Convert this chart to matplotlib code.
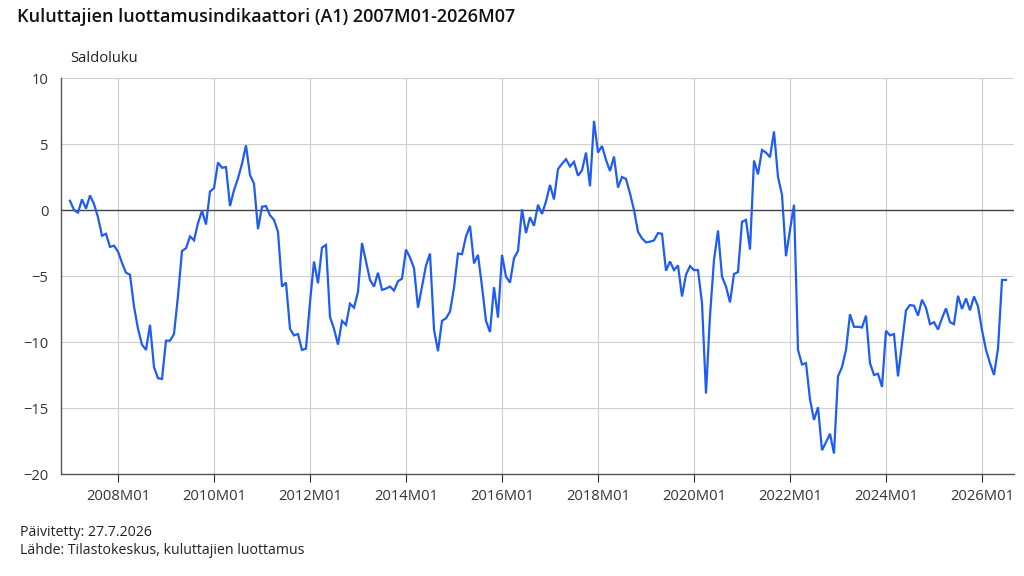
import matplotlib
matplotlib.use("Agg")
import matplotlib.pyplot as plt
from matplotlib.ticker import FixedLocator, FuncFormatter

plt.rcParams['font.family'] = ['Open Sans', 'DejaVu Sans']

title = "Kuluttajien luottamusindikaattori (A1) 2007M01-2026M07"
y_label = "Saldoluku"
footer_lines = ["Päivitetty: 27.7.2026", "Lähde: Tilastokeskus, kuluttajien luottamus"]

start_year = 2007
n_months = 235
periods = [f"{start_year + i // 12}M{i % 12 + 1:02d}" for i in range(n_months)]

values = [
    0.7, 0.0, -0.2, 0.8, 0.1, 1.1, 0.45, -0.55, -1.95, -1.8, -2.8, -2.7,
    -3.15, -4.0, -4.75, -4.9, -7.3, -9.0, -10.2, -10.6, -8.7, -11.9, -12.75, -12.8,
    -9.9, -9.9, -9.4, -6.5, -3.1, -2.9, -2.0, -2.3, -1.0, -0.05, -1.1, 1.4,
    1.65, 3.6, 3.2, 3.25, 0.3, 1.5, 2.4, 3.5, 4.9, 2.65, 2.0, -1.45,
    0.25, 0.3, -0.4, -0.75, -1.65, -5.8, -5.5, -9.0, -9.5, -9.4, -10.6, -10.5,
    -7.0, -3.9, -5.55, -2.85, -2.65, -8.1, -9.0, -10.2, -8.4, -8.7, -7.1, -7.4,
    -6.2, -2.5, -3.9, -5.3, -5.8, -4.75, -6.05, -5.95, -5.8, -6.1, -5.4, -5.2,
    -3.0, -3.6, -4.4, -7.4, -5.8, -4.2, -3.3, -9.05, -10.7, -8.4, -8.2, -7.7,
    -5.9, -3.3, -3.35, -2.0, -1.2, -4.05, -3.4, -5.8, -8.4, -9.25, -5.85, -8.15,
    -3.4, -5.05, -5.5, -3.65, -3.1, 0.05, -1.75, -0.55, -1.2, 0.4, -0.3, 0.65,
    1.9, 0.8, 3.1, 3.5, 3.85, 3.3, 3.65, 2.6, 3.0, 4.35, 1.8, 6.75,
    4.35, 4.85, 3.8, 2.95, 4.05, 1.7, 2.5, 2.35, 1.25, 0.0, -1.65, -2.15,
    -2.45, -2.4, -2.3, -1.75, -1.8, -4.6, -3.9, -4.55, -4.2, -6.55, -4.9, -4.25,
    -4.55, -4.55, -7.05, -13.9, -8.0, -3.8, -1.55, -5.05, -5.8, -7.0, -4.85, -4.7,
    -0.9, -0.75, -3.0, 3.75, 2.7, 4.55, 4.35, 4.0, 5.95, 2.5, 1.15, -3.5,
    -1.5, 0.4, -10.6, -11.7, -11.6, -14.35, -15.9, -14.95, -18.2, -17.6, -16.95, -18.45,
    -12.6, -11.9, -10.6, -7.9, -8.85, -8.85, -8.9, -8.0, -11.6, -12.5, -12.4, -13.4,
    -9.15, -9.5, -9.4, -12.6, -10.1, -7.6, -7.2, -7.25, -8.0, -6.8, -7.4, -8.65,
    -8.5, -9.05, -8.2, -7.45, -8.5, -8.65, -6.5, -7.5, -6.7, -7.6, -6.55, -7.3,
    -9.1, -10.6, -11.6, -12.5, -10.5, -5.3, -5.3,
]

x_tick_labels = ["2008M01", "2010M01", "2012M01", "2014M01", "2016M01",
                 "2018M01", "2020M01", "2022M01", "2024M01", "2026M01"]
y_ticks = [-20, -15, -10, -5, 0, 5, 10]

fig = plt.figure(figsize=(10.24, 5.76), dpi=100)
ax = fig.add_axes([61 / 1024, 1 - 474 / 576, (1014 - 61) / 1024, (474 - 78) / 576])

x = list(range(len(values)))
ax.plot(x, values, color="#1f5cf2", lw=1.6, solid_joinstyle="miter", zorder=3)

ax.set_xlim(-2.25, 236)
ax.set_ylim(-20, 10)

tick_pos = [periods.index(l) for l in x_tick_labels]
ax.xaxis.set_major_locator(FixedLocator(tick_pos))
ax.set_xticklabels(x_tick_labels)
ax.yaxis.set_major_locator(FixedLocator(y_ticks))
ax.yaxis.set_major_formatter(FuncFormatter(lambda v, p: f"{int(v)}".replace("-", "\u2212")))

ax.grid(True, color="#cfcfcf", lw=0.8, zorder=0)
ax.axhline(0, color="#444444", lw=1.0, zorder=2)

for s in ["top", "right"]:
    ax.spines[s].set_visible(False)
ax.spines["left"].set_color("#555555")
ax.spines["left"].set_linewidth(1.0)
ax.spines["bottom"].set_color("#555555")
ax.spines["bottom"].set_linewidth(1.0)

ax.tick_params(axis="x", length=6, width=0.8, color="#333333", pad=5,
               labelsize=10.6, labelcolor="#333333")
ax.tick_params(axis="y", length=0, pad=9, labelsize=10.6, labelcolor="#333333")

fig.text(17 / 1024, 1 - 17 / 576, title, fontsize=13, fontweight="semibold",
         va="center", ha="left", color="#111111")
fig.text(70 / 1024, 1 - 58 / 576, y_label, fontsize=10.6, va="center", ha="left", color="#222222")
fig.text(20 / 1024, 1 - 532 / 576, footer_lines[0], fontsize=10.2, va="center", ha="left", color="#222222")
fig.text(20 / 1024, 1 - 550 / 576, footer_lines[1], fontsize=10.2, va="center", ha="left", color="#222222")

fig.savefig("out.png", dpi=100)
